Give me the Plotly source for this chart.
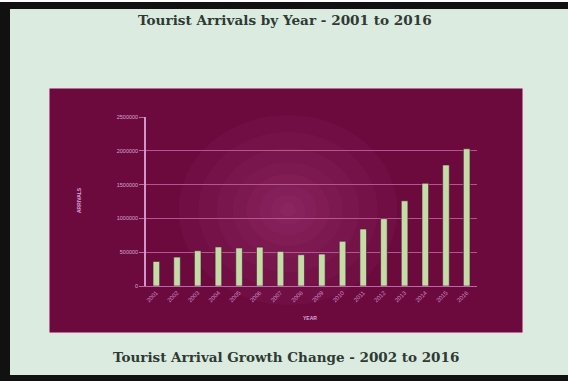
import plotly.graph_objects as go

years = ["2001", "2002", "2003", "2004", "2005", "2006", "2007", "2008",
         "2009", "2010", "2011", "2012", "2013", "2014", "2015", "2016"]
arrivals = [363000, 428000, 522000, 578000, 563000, 575000, 512000, 463000,
            473000, 662000, 843000, 996000, 1260000, 1520000, 1790000, 2030000]
y_ticks = [0, 500000, 1000000, 1500000, 2000000, 2500000]

W, H = 568, 381
L, R, T, B = 146, 477, 117, 286  # plot area in pixels


def px(x):
    return (x - L) / (R - L)


def py(y):
    return (B - y) / (B - T)


fig = go.Figure()
fig.add_trace(go.Bar(
    x=years, y=arrivals,
    marker=dict(color="#c6dca6", line=dict(color="#4a1838", width=0.6)),
    width=0.32,
))

shapes = []
# maroon panel
shapes.append(dict(type="rect", xref="paper", yref="paper", layer="below",
                   x0=px(49), x1=px(523), y0=py(333), y1=py(88),
                   fillcolor="#6c0a3e", line=dict(color="#f2d8e6", width=1)))
# soft radial glow
for r in [95, 78, 62, 48, 36, 25, 15, 7]:
    cx, cy = 288, 210
    shapes.append(dict(type="circle", xref="paper", yref="paper", layer="below",
                       x0=px(cx - r * 1.15), x1=px(cx + r * 1.15),
                       y0=py(cy + r), y1=py(cy - r),
                       fillcolor="rgba(200,90,160,0.055)", line=dict(width=0)))
# black frame (left, top, bottom)
shapes.append(dict(type="rect", xref="paper", yref="paper", layer="above",
                   x0=px(0), x1=px(10), y0=py(381), y1=py(2),
                   fillcolor="#111111", line=dict(width=0)))
shapes.append(dict(type="rect", xref="paper", yref="paper", layer="above",
                   x0=px(0), x1=px(568), y0=py(9), y1=py(2),
                   fillcolor="#111111", line=dict(width=0)))
shapes.append(dict(type="rect", xref="paper", yref="paper", layer="above",
                   x0=px(0), x1=px(568), y0=py(381), y1=py(375),
                   fillcolor="#111111", line=dict(width=0)))
shapes.append(dict(type="rect", xref="paper", yref="paper", layer="above",
                   x0=px(0), x1=px(568), y0=py(2), y1=py(0),
                   fillcolor="#ffffff", line=dict(width=0)))

annotations = [
    dict(text="<b>Tourist Arrivals by Year - 2001 to 2016</b>", xref="paper", yref="paper",
         x=px(285), y=py(20), showarrow=False, xanchor="center", yanchor="middle",
         font=dict(family="DejaVu Serif", size=13.6, color="#2e3a33")),
    dict(text="<b>Tourist Arrival Growth Change - 2002 to 2016</b>", xref="paper", yref="paper",
         x=px(286), y=py(357), showarrow=False, xanchor="center", yanchor="middle",
         font=dict(family="DejaVu Serif", size=13.5, color="#2e3a33")),
    dict(text="<b>ARRIVALS</b>", xref="paper", yref="paper", textangle=-90,
         x=px(79), y=py(200), showarrow=False, xanchor="center", yanchor="middle",
         font=dict(family="Liberation Sans", size=5, color="#d9a6d4")),
    dict(text="<b>YEAR</b>", xref="paper", yref="paper",
         x=px(310), y=py(318), showarrow=False, xanchor="center", yanchor="middle",
         font=dict(family="Liberation Sans", size=5, color="#d9a6d4")),
]

fig.update_layout(
    width=W, height=H,
    margin=dict(l=L, r=W - R, t=T, b=H - B, pad=0),
    paper_bgcolor="#dcebe0",
    plot_bgcolor="rgba(0,0,0,0)",
    showlegend=False,
    shapes=shapes,
    annotations=annotations,
    xaxis=dict(type="category", tickangle=-45,
               tickfont=dict(family="Liberation Sans", size=6, color="#c98bc4"),
               showline=True, linecolor="#b86aa8", linewidth=1,
               showgrid=False, ticks="", ticklen=0),
    yaxis=dict(range=[0, 2500000], tickvals=y_ticks,
               ticktext=[str(v) for v in y_ticks],
               tickfont=dict(family="Liberation Sans", size=5.5, color="#d9a6d4"),
               showline=True, linecolor="#cf96cc", linewidth=1.5,
               showgrid=True, gridcolor="#b5558f", gridwidth=1,
               zeroline=False, ticks="outside", ticklen=5, tickcolor="#b86aa8"),
)

css = ("html,body{margin:0;padding:0;overflow:hidden;background:#dcebe0;scrollbar-width:none;}"
       "::-webkit-scrollbar{display:none;width:0;height:0;}")
fig.write_html("out.html", config={"displayModeBar": False},
               post_script=("var s=document.createElement('style');"
                            "s.textContent='" + css + "';"
                            "document.head.appendChild(s);"))
